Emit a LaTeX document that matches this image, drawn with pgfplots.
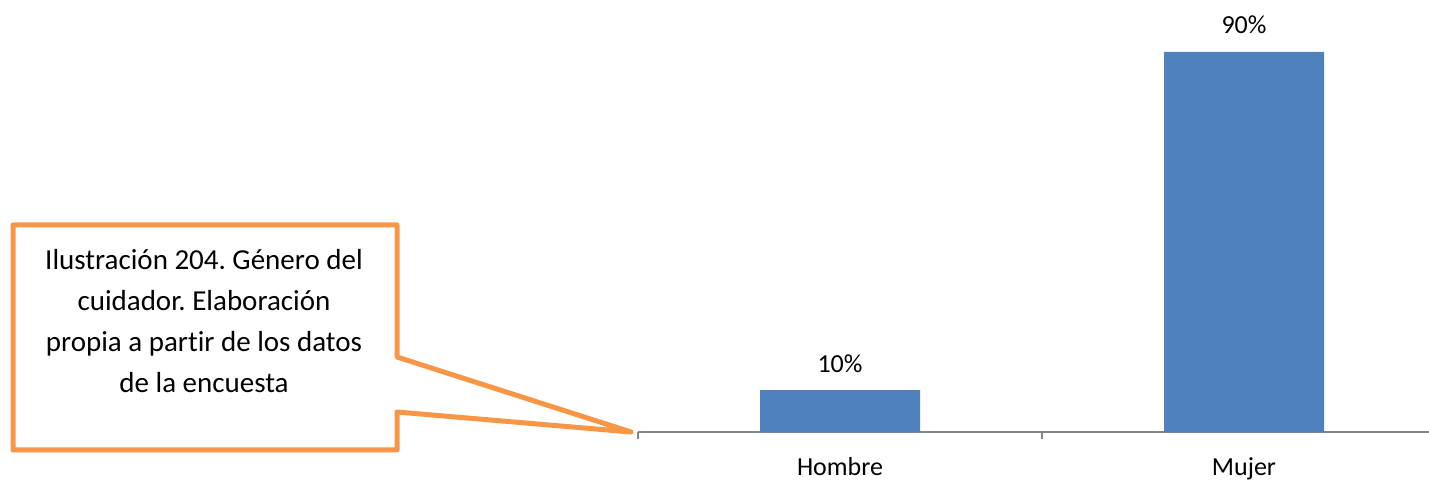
\documentclass[border=0pt]{standalone}
\usepackage{fontspec}
\setmainfont{Carlito}[Ligatures=NoCommon]
\usepackage{pgfplots}
\pgfplotsset{compat=1.18}
\definecolor{barblue}{HTML}{4F81BD}
\definecolor{calloutorange}{HTML}{F79646}
\definecolor{axisgray}{HTML}{868686}
\frenchspacing
\begin{document}
\begin{tikzpicture}[x=1pt,y=1pt]
\useasboundingbox (0,0) rectangle (714.5,240.5);
\begin{axis}[
  at={(319pt,24.25pt)}, anchor=south west,
  scale only axis, width=404pt, height=211.4pt,
  xmin=-0.5, xmax=1.5, ymin=0, ymax=100,
  enlargelimits=false,
  axis x line*=bottom, axis y line=none,
  ytick=\empty,
  ybar, bar width=80pt, bar shift=0pt,
  xtick={0,1}, xticklabels={Hombre,Mujer},
  major tick length=0pt,
  minor xtick={-0.5,0.5,1.5},
  minor tick length=3.5pt, tick align=outside,
  x axis line style={axisgray, line width=1pt, -},
  every tick/.style={axisgray, line width=1pt},
  /pgf/number format/assume math mode=true,
  xticklabel style={anchor=base, yshift=-21.5pt, inner sep=0pt, font=\fontsize{13}{15}\selectfont, text=black},
  nodes near coords={\pgfmathprintnumber{\pgfplotspointmeta}\%},
  every node near coord/.append style={anchor=base, yshift=9pt, inner sep=0pt, font=\fontsize{13}{15}\selectfont, text=black},
  clip=false,
]
\addplot[fill=barblue, draw=none] coordinates {(0,10) (1,90)};
\end{axis}
\draw[calloutorange, line width=2.5pt, line join=round]
  (6.5,128) -- (198.5,128) -- (198.5,62) -- (315.5,24.5) -- (198.5,34.5) -- (198.5,15.5) -- (6.5,15.5) -- cycle;
\begin{scope}[every node/.style={anchor=base, inner sep=0pt, font=\fontsize{14.5}{17}\selectfont}]
\node at (102,105.5) {Ilustración 204. Género del};
\node at (102,85) {cuidador. Elaboración};
\node at (102,64.5) {propia a partir de los datos};
\node at (102,44) {de la encuesta};
\end{scope}
\end{tikzpicture}
\end{document}
